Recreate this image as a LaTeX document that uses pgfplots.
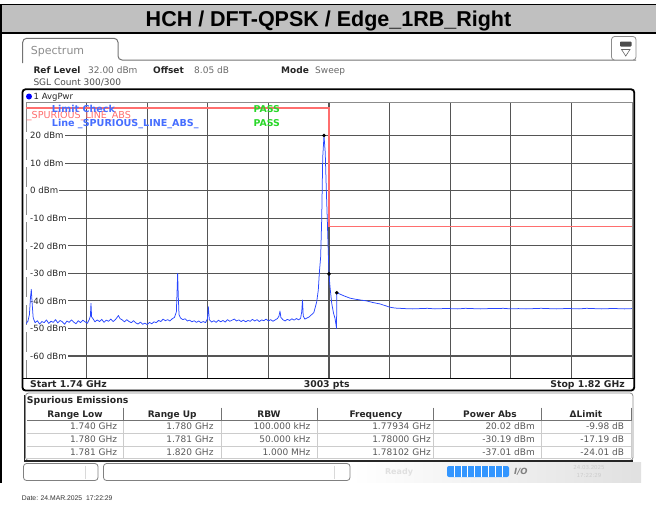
\documentclass[border=0pt]{standalone}
\usepackage{pgfplots}
\pgfplotsset{compat=1.18}
\usepackage{fontspec}
\setmainfont{DejaVu Sans}
\newfontfamily\arialf{Liberation Sans}
\definecolor{tracec}{RGB}{40,70,255}
\definecolor{limitc}{RGB}{255,110,110}
\definecolor{gridc}{RGB}{85,85,85}
\definecolor{titlebg}{RGB}{192,192,192}
\definecolor{passc}{RGB}{40,215,40}
\definecolor{lblue}{RGB}{70,110,255}
\definecolor{txtgray}{RGB}{105,105,105}
\definecolor{barblue}{RGB}{51,150,255}
\newcommand{\fs}[1]{\fontsize{#1}{#1}\selectfont}
\newcommand{\lb}[1]{\hspace*{3pt}#1}
\begin{document}
\begin{tikzpicture}
\path[use as bounding box] (0pt,0pt) rectangle (656pt,-515pt);
\begin{scope}[x=1pt,y=-1pt]
% title bar
\fill[titlebg] (0,4) rectangle (656,33.3);
\draw[black,line width=1.6pt] (0,4.4)--(656,4.4);
\draw[black,line width=1.8pt] (0,33.2)--(656,33.2);
\fill[black] (0,4) rectangle (2.4,483);
\node[anchor=base, font=\arialf\bfseries\fs{21.5}, inner sep=0] at (328.5,26.7) {HCH / DFT-QPSK / Edge\_1RB\_Right};
% tab
\draw[black!55, line width=1pt, rounded corners=4pt] (22.7,63)--(22.7,38.3)--(118,38.3)--(118,60)--(636,60);
\node[anchor=base west, inner sep=0, font=\fs{11}, text=black!45] at (30.7,54.2) {Spectrum};
\draw[black!45, line width=0.8pt, rounded corners=3pt, fill=white] (611.5,36.5) rectangle (636,60);
\fill[black!70, rounded corners=0.8pt] (620,41.5) rectangle (631.5,46.5);
\draw[black!60, line width=0.6pt] (621.5,49.5)--(630,49.5)--(625.75,56)--cycle;
% info lines
\node[anchor=base west, inner sep=0, font=\bfseries\fs{9}, text=black!85] at (33.3,73.3) {Ref Level};
\node[anchor=base west, inner sep=0, font=\fs{9}, text=txtgray] at (88,73.3) {32.00 dBm};
\node[anchor=base west, inner sep=0, font=\bfseries\fs{9}, text=black!85] at (153,73.3) {Offset};
\node[anchor=base west, inner sep=0, font=\fs{9}, text=txtgray] at (194,73.3) {8.05 dB};
\node[anchor=base west, inner sep=0, font=\bfseries\fs{9}, text=black!85] at (281,73.3) {Mode};
\node[anchor=base west, inner sep=0, font=\fs{9}, text=txtgray] at (315,73.3) {Sweep};
\node[anchor=base west, inner sep=0, font=\fs{9}, text=black!70] at (33.3,85) {SGL Count 300/300};
% plot frame
\node[anchor=base west, inner sep=0, font=\fs{8.5}, text=black!85] at (33.5,99.8) {1 AvgPwr};
\fill[blue] (29,96.5) circle (3pt);
\end{scope}
\begin{axis}[
 at={(26pt,-378pt)}, anchor=south west,
 scale only axis, width=606pt, height=275.4pt,
 xmin=1.74, xmax=1.82, ymin=-68, ymax=32,
 xtick={1.748,1.756,1.764,1.772,1.780,1.788,1.796,1.804,1.812},
 xticklabels={},
 ytick={-60,-50,-40,-30,-20,-10,0,10,20},
 yticklabels={\lb{-60 dBm},\lb{-50 dBm},\lb{-40 dBm},\lb{-30 dBm},\lb{-20 dBm},\lb{-10 dBm},\lb{0 dBm},\lb{10 dBm},\lb{20 dBm}},
 major tick length=0pt,
 grid=major,
 major grid style={draw=gridc, line width=1.1pt},
 axis line style={draw=black!45, line width=0.8pt},
 yticklabel style={anchor=west, xshift=0pt, fill=white, inner xsep=1pt, inner ysep=0.3pt, font=\fs{8.6}, text=black!85},
]
\addplot[limitc, line width=1.3pt] coordinates {(1.74,30) (1.78,30) (1.78,-13) (1.82,-13)};
\addplot[tracec, line width=0.75pt, line join=round] coordinates {
(1.74000,-48.3) (1.74025,-47.4) (1.74045,-45.0) (1.74060,-38.5) (1.74070,-35.8) (1.74080,-40.5) (1.74095,-46.2)
(1.74120,-47.9) (1.74150,-47.2) (1.74180,-48.4) (1.74210,-47.5) (1.74240,-47.9) (1.74270,-46.9) (1.74300,-48.2)
(1.74330,-47.4) (1.74360,-47.8) (1.74390,-46.8) (1.74420,-48.0) (1.74450,-47.1) (1.74480,-47.6) (1.74510,-48.5)
(1.74540,-47.3) (1.74570,-47.8) (1.74600,-46.9) (1.74630,-47.7) (1.74660,-48.3) (1.74690,-47.2) (1.74720,-47.9)
(1.74750,-47.0) (1.74780,-47.6) (1.74810,-48.1) (1.74835,-46.8) (1.74850,-45.5) (1.74858,-40.9) (1.74866,-45.8)
(1.74885,-46.5) (1.74910,-47.6) (1.74940,-46.9) (1.74970,-47.5) (1.75000,-46.7) (1.75030,-47.8) (1.75060,-47.0)
(1.75090,-47.4) (1.75120,-46.6) (1.75150,-47.5) (1.75180,-46.8) (1.75205,-45.9) (1.75220,-45.3) (1.75240,-46.4)
(1.75270,-46.9) (1.75300,-47.6) (1.75330,-46.8) (1.75360,-47.5) (1.75390,-47.9) (1.75420,-47.2) (1.75450,-48.0)
(1.75480,-48.4) (1.75510,-47.7) (1.75540,-48.5) (1.75570,-48.1) (1.75600,-48.6) (1.75630,-47.8) (1.75660,-48.3)
(1.75690,-47.6) (1.75720,-47.9) (1.75750,-47.1) (1.75780,-47.5) (1.75810,-46.6) (1.75840,-47.2) (1.75870,-46.8)
(1.75900,-47.3) (1.75930,-46.5) (1.75960,-46.0) (1.75985,-44.0) (1.75995,-36.0) (1.76002,-30.0) (1.76010,-38.0)
(1.76020,-45.0) (1.76040,-46.2) (1.76070,-46.8) (1.76100,-46.5) (1.76130,-47.3) (1.76160,-47.0) (1.76190,-47.6)
(1.76220,-47.2) (1.76250,-47.8) (1.76280,-47.3) (1.76310,-47.9) (1.76340,-47.5) (1.76370,-47.9) (1.76395,-46.5)
(1.76407,-42.1) (1.76420,-46.8) (1.76450,-47.7) (1.76480,-47.2) (1.76510,-47.8) (1.76540,-47.0) (1.76570,-47.6)
(1.76600,-47.1) (1.76630,-47.7) (1.76660,-46.8) (1.76690,-47.4) (1.76720,-47.0) (1.76750,-46.6) (1.76780,-47.3)
(1.76810,-46.9) (1.76840,-47.5) (1.76870,-47.0) (1.76900,-47.6) (1.76930,-47.1) (1.76960,-47.4) (1.76990,-46.7)
(1.77020,-47.3) (1.77050,-46.8) (1.77080,-47.5) (1.77110,-46.9) (1.77140,-47.2) (1.77170,-46.6) (1.77200,-47.3)
(1.77230,-46.8) (1.77260,-47.4) (1.77290,-46.9) (1.77320,-46.4) (1.77340,-45.5) (1.77353,-43.7) (1.77365,-46.0)
(1.77390,-46.8) (1.77420,-47.3) (1.77450,-46.7) (1.77480,-47.1) (1.77510,-46.5) (1.77540,-47.0) (1.77570,-46.4)
(1.77600,-46.9) (1.77625,-46.3) (1.77640,-44.0) (1.77650,-39.7) (1.77660,-45.5) (1.77680,-46.6) (1.77710,-46.2)
(1.77740,-45.8) (1.77760,-45.2) (1.77780,-44.8) (1.77800,-44.2) (1.77815,-42.7) (1.77838,-40.3) (1.77859,-36.0)
(1.77872,-30.0) (1.77890,-24.0) (1.77904,-10.0) (1.77917,12.0) (1.77934,20.02) (1.77950,14.0) (1.77965,0.0)
(1.77977,-10.0) (1.77990,-22.0) (1.78000,-30.19) (1.78013,-34.8) (1.78036,-40.9) (1.78060,-44.5) (1.78079,-46.3)
(1.78100,-50.0) (1.78102,-37.01) (1.78150,-37.6) (1.78200,-38.2) (1.78277,-39.0) (1.78350,-39.4) (1.78420,-39.7)
(1.78497,-40.0) (1.78580,-40.6) (1.78673,-41.1) (1.78740,-41.7) (1.78805,-42.3) (1.78870,-42.6) (1.78937,-42.7)
(1.790,-42.8) (1.791,-42.9) (1.792,-42.8) (1.793,-42.7) (1.794,-42.9) (1.795,-42.8) (1.796,-42.8) (1.797,-42.9)
(1.798,-42.7) (1.799,-42.8) (1.800,-42.9) (1.801,-42.8) (1.802,-42.8) (1.803,-42.7) (1.804,-42.9) (1.805,-42.8)
(1.806,-42.9) (1.807,-42.8) (1.808,-42.7) (1.809,-42.8) (1.810,-42.9) (1.811,-42.8) (1.812,-42.8) (1.813,-42.9)
(1.814,-42.7) (1.815,-42.8) (1.816,-42.9) (1.817,-42.8) (1.818,-42.8) (1.819,-42.9) (1.820,-42.8)};
\addplot[only marks, mark=*, mark size=1.6pt, black] coordinates {(1.77934,20.02) (1.78000,-30.19) (1.78102,-37.01)};
\end{axis}
\begin{scope}[x=1pt,y=-1pt]
% plot overlays
\node[anchor=base west, inner sep=0, font=\fs{9.6}, text=limitc] at (26.7,118.5) {\_SPURIOUS\_LINE\_ABS\_};
\node[anchor=base west, inner sep=0, font=\bfseries\fs{9.6}, text=lblue] at (51.7,112.8) {Limit Check};
\node[anchor=base west, inner sep=0, font=\bfseries\fs{9.6}, text=lblue] at (51.7,126.8) {Line \_SPURIOUS\_LINE\_ABS\_};
\node[anchor=base west, inner sep=0, font=\bfseries\fs{9.4}, text=passc] at (253.3,112.8) {PASS};
\node[anchor=base west, inner sep=0, font=\bfseries\fs{9.4}, text=passc] at (253.3,126.8) {PASS};
% frame
\draw[black, line width=1.8pt, rounded corners=3pt] (22.5,89.3) rectangle (634.2,390.5);
\draw[black, line width=1.4pt] (22.5,378.2)--(634,378.2);
\node[anchor=base west, inner sep=0, font=\bfseries\fs{9.3}, text=black!85] at (30,387.6) {Start 1.74 GHz};
\node[anchor=base, inner sep=0, font=\bfseries\fs{9.3}, text=black!85] at (326.7,387.6) {3003 pts};
\node[anchor=base east, inner sep=0, font=\bfseries\fs{9.3}, text=black!85] at (625,387.6) {Stop 1.82 GHz};
% spurious box
\draw[black!45, line width=0.8pt, rounded corners=3pt] (25.5,393) rectangle (633,460.5);
\draw[black!85, line width=1.6pt] (24.5,395)--(24.5,461)--(633,461);
\node[anchor=base west, inner sep=0, font=\bfseries\fs{9.3}, text=black!85] at (26.7,403.4) {Spurious Emissions};
\draw[black!55, line width=0.9pt] (27,420.7)--(631.5,420.7);
\foreach \x in {123.5,221.5,317.5,433,541,631} {\draw[black!55, line width=0.9pt] (\x,407.5)--(\x,420.7); \draw[black!20, line width=0.7pt] (\x,421)--(\x,458);}
\foreach \y in {433.3,446,458} {\draw[black!20, line width=0.7pt] (27,\y)--(631,\y);}
\foreach \x/\t in {75/Range Low,172.2/Range Up,269/RBW,375.9/Frequency,490/Power Abs,586/ΔLimit}
 {\node[anchor=base, inner sep=0, font=\bfseries\fs{9}, text=black!85] at (\x,417.6) {\t};}
\foreach \x/\a/\b/\c in {117.3/1.740 GHz/1.780 GHz/1.781 GHz, 213.7/1.780 GHz/1.781 GHz/1.820 GHz, 310.6/100.000 kHz/50.000 kHz/1.000 MHz, 431/1.77934 GHz/1.78000 GHz/1.78102 GHz, 535/20.02 dBm/-30.19 dBm/-37.01 dBm, 624.3/-9.98 dB/-17.19 dB/-24.01 dB}
 {\node[anchor=base east, inner sep=0, font=\fs{9}, text=black!65] at (\x,429.6) {\a};
  \node[anchor=base east, inner sep=0, font=\fs{9}, text=black!65] at (\x,442.6) {\b};
  \node[anchor=base east, inner sep=0, font=\fs{9}, text=black!65] at (\x,455) {\c};}
% status bar
\shade[left color=white, right color=black!12] (352,462.5) rectangle (641,482);
\draw[black!50, line width=0.8pt, rounded corners=3pt, fill=white] (23.5,463.5) rectangle (98,480.5);
\draw[black!15] (85,465.5)--(85,478.5);
\draw[black!50, line width=0.8pt, rounded corners=3pt, fill=white] (103.5,463.5) rectangle (350,480.5);
\draw[black!15] (334,465.5)--(334,478.5);
\node[anchor=base, inner sep=0, font=\bfseries\fs{8}, text=black!12] at (399,474) {Ready};
\fill[barblue, rounded corners=2pt] (447,466) rectangle (509,477);
\foreach \i in {1,...,8} {\draw[white, line width=0.6pt] (447+\i*6.9,466)--(447+\i*6.9,477);}
\node[anchor=base west, inner sep=0, font=\bfseries\itshape\fs{8.5}, text=black!50] at (514,474.5) {I/O};
\node[anchor=base, inner sep=0, font=\fs{5.5}, text=white!80!black] at (589,469) {24.03.2025};
\node[anchor=base, inner sep=0, font=\fs{5.5}, text=white!80!black] at (589,477) {17:22:29};
% date
\node[anchor=base west, inner sep=0, font=\arialf\fs{6.8}, text=black!80] at (21.7,500.8) {Date: 24.MAR.2025~~17:22:29};
\end{scope}
\end{tikzpicture}
\end{document}
